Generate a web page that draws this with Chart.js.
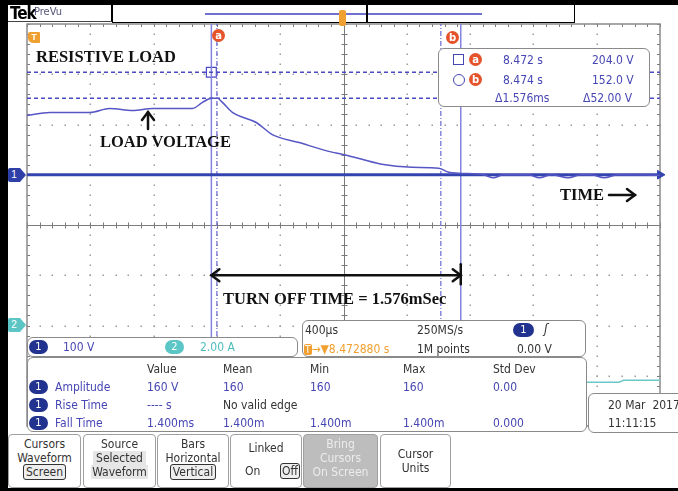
<!DOCTYPE html>
<html>
<head>
<meta charset="utf-8">
<script src="https://cdn.jsdelivr.net/npm/chart.js@4.4.0/dist/chart.umd.min.js"></script>
<style>
  body { margin: 0; background: #fff; }
  #scope { position: relative; width: 678px; height: 491px; overflow: hidden; background: #fff;
           font-family: "Liberation Sans Narrow", "DejaVu Sans Condensed", sans-serif; font-size: 12px; color: #333; }
  #scope canvas { position: absolute; left: 0; top: 0; }
  .t { position: absolute; white-space: nowrap; line-height: 14px; }
  .blue { color: #4646b4; }
  .box { position: absolute; background: #fff; border: 1.5px solid #8a8a8a; border-radius: 6px; box-sizing: border-box; }
  .pill { position: absolute; width: 19px; height: 14px; border-radius: 7px; background: #22338f; color: #fff;
          font-size: 11px; line-height: 14px; text-align: center; }
  .pill.c2 { background: #5cc6c6; }
  .lbl { position: absolute; width: 13px; height: 13px; border-radius: 7px; background: #e4532a; color: #fff;
         font: bold 10px/13px "DejaVu Sans", sans-serif; text-align: center; }
  .note { position: absolute; white-space: nowrap; font: bold 16.5px "Liberation Serif", serif; color: #111; }
  .btn { position: absolute; top: 434px; height: 54px; border: 1px solid #a0a0a0; border-radius: 4px; box-sizing: border-box;
         background: #fff; text-align: center; line-height: 14px; padding-top: 2px; color: #333; }
  .btn.off { background: #bdbdbd; color: #ececec; }
  .sel { border: 1px solid #333; border-radius: 3px; padding: 0 2px; background: #eee; }
</style>
</head>
<body>
<div id="scope">
  <canvas id="scopeChart" width="678" height="491"></canvas>

  <!-- frame -->
  <div style="position:absolute;left:0;top:0;width:678px;height:5px;background:#000"></div>
  <div style="position:absolute;left:0;top:0;width:8px;height:491px;background:#000"></div>
  <div style="position:absolute;left:0;top:488px;width:678px;height:3px;background:#000"></div>

  <!-- header -->
  <div style="position:absolute;left:8px;top:5px;width:104px;height:17px;border-right:1.5px solid #000;border-bottom:1px solid #444;box-sizing:border-box"></div>
  <div class="t" style="left:10px;top:4px;font:bold 17px/18px 'Liberation Sans Narrow','DejaVu Sans Condensed',sans-serif;color:#000;letter-spacing:-1px">Tek</div>
  <div class="t" style="left:34px;top:5px;font-size:11px;color:#55557a">PreVu</div>
  <div style="position:absolute;left:112px;top:5px;width:463px;height:18px;border:1.5px solid #000;border-top:none;box-sizing:border-box"></div>
  <div style="position:absolute;left:205px;top:13px;width:277px;height:2px;background:#7070d0"></div>
  <div style="position:absolute;left:366px;top:5px;width:1.5px;height:17px;background:#000"></div>
  <div style="position:absolute;left:339px;top:10px;width:7px;height:16px;border-radius:2px;background:#f0a030"></div>

  <!-- markers on graticule -->
  <div style="position:absolute;left:28px;top:32px;width:12px;height:11px;border-radius:2px 1px 1px 5px;background:#f0a030;color:#fff;font:bold 9px/11px sans-serif;text-align:center">T</div>
  <div class="lbl" style="left:212px;top:29px">a</div>
  <div class="lbl" style="left:446px;top:31px">b</div>
  <div style="position:absolute;left:8px;top:168px;width:12px;height:14px;background:#2f3fa8;color:#fff;font:10px/14px sans-serif;text-align:center;border-radius:2px 0 0 2px">1</div>
  <div style="position:absolute;left:20px;top:168px;width:0;height:0;border-top:7px solid transparent;border-bottom:7px solid transparent;border-left:6px solid #2f3fa8"></div>
  <div style="position:absolute;left:8px;top:318px;width:12px;height:14px;background:#5cc6c6;color:#fff;font:10px/14px sans-serif;text-align:center;border-radius:2px 0 0 2px">2</div>
  <div style="position:absolute;left:20px;top:318px;width:0;height:0;border-top:7px solid transparent;border-bottom:7px solid transparent;border-left:6px solid #5cc6c6"></div>

  <!-- annotations -->
  <div class="note" style="left:36px;top:47px">RESISTIVE LOAD</div>
  <div class="note" style="left:100px;top:132px">LOAD VOLTAGE</div>
  <div class="note" style="left:560px;top:185px">TIME</div>
  <div class="note" style="left:223px;top:289px">TURN OFF TIME = 1.576mSec</div>

  <!-- cursor readout -->
  <div class="box" style="left:438px;top:48px;width:212px;height:59px"></div>
  <div style="position:absolute;left:453px;top:54px;width:11px;height:11px;border:1.2px solid #4646b4;box-sizing:border-box"></div>
  <div class="lbl" style="left:469px;top:53px">a</div>
  <div class="t blue" style="left:503px;top:53px">8.472 s</div>
  <div class="t blue" style="left:592px;top:53px">204.0 V</div>
  <div style="position:absolute;left:453px;top:74px;width:12px;height:12px;border:1.2px solid #4646b4;border-radius:6px;box-sizing:border-box"></div>
  <div class="lbl" style="left:469px;top:73px">b</div>
  <div class="t blue" style="left:503px;top:73px">8.474 s</div>
  <div class="t blue" style="left:592px;top:73px">152.0 V</div>
  <div class="t blue" style="left:495px;top:91px">Δ1.576ms</div>
  <div class="t blue" style="left:583px;top:91px">Δ52.00 V</div>

  <!-- channel bar -->
  <div class="box" style="left:27px;top:337px;width:271px;height:20px"></div>
  <div class="pill" style="left:29px;top:340px">1</div>
  <div class="t blue" style="left:63px;top:340px">100 V</div>
  <div class="pill c2" style="left:165px;top:340px">2</div>
  <div class="t" style="left:200px;top:340px;color:#4cbcbc">2.00 A</div>

  <!-- horizontal / trigger box -->
  <div class="box" style="left:302px;top:320px;width:284px;height:37px"></div>
  <div class="t" style="left:305px;top:323px">400µs</div>
  <div class="t" style="left:417px;top:323px">250MS/s</div>
  <div class="pill" style="left:513px;top:323px;width:21px">1</div>
  <div class="t" style="left:544px;top:322px;font-size:13px;font-style:italic">ʃ</div>
  <div class="t" style="left:304px;top:342px;color:#f0a030"><span style="background:#f0a030;color:#fff;border-radius:2px;padding:0 1px;font-size:10px">T</span>→▼8.472880 s</div>
  <div class="t" style="left:417px;top:342px">1M points</div>
  <div class="t" style="left:517px;top:342px">0.00 V</div>

  <!-- measurements -->
  <div class="box" style="left:27px;top:357px;width:560px;height:75px"></div>
  <div class="t" style="left:147px;top:362px">Value</div>
  <div class="t" style="left:223px;top:362px">Mean</div>
  <div class="t" style="left:310px;top:362px">Min</div>
  <div class="t" style="left:403px;top:362px">Max</div>
  <div class="t" style="left:493px;top:362px">Std Dev</div>

  <div class="pill" style="left:29px;top:380px">1</div>
  <div class="t blue" style="left:55px;top:380px">Amplitude</div>
  <div class="t blue" style="left:147px;top:380px">160 V</div>
  <div class="t blue" style="left:223px;top:380px">160</div>
  <div class="t blue" style="left:310px;top:380px">160</div>
  <div class="t blue" style="left:403px;top:380px">160</div>
  <div class="t blue" style="left:493px;top:380px">0.00</div>

  <div class="pill" style="left:29px;top:398px">1</div>
  <div class="t blue" style="left:55px;top:398px">Rise Time</div>
  <div class="t blue" style="left:147px;top:398px">---- s</div>
  <div class="t" style="left:223px;top:398px">No valid edge</div>

  <div class="pill" style="left:29px;top:416px">1</div>
  <div class="t blue" style="left:55px;top:416px">Fall Time</div>
  <div class="t blue" style="left:147px;top:416px">1.400ms</div>
  <div class="t blue" style="left:223px;top:416px">1.400m</div>
  <div class="t blue" style="left:310px;top:416px">1.400m</div>
  <div class="t blue" style="left:403px;top:416px">1.400m</div>
  <div class="t blue" style="left:493px;top:416px">0.000</div>

  <!-- date -->
  <div class="box" style="left:588px;top:393px;width:100px;height:40px"></div>
  <div class="t" style="left:608px;top:398px">20 Mar&nbsp; 2017</div>
  <div class="t" style="left:608px;top:416px">11:11:15</div>

  <!-- soft buttons -->
  <div class="btn" style="left:8px;width:73px">Cursors<br>Waveform<br><span class="sel">Screen</span></div>
  <div class="btn" style="left:83px;width:73px">Source<br><span style="background:#e6e6e6;padding:0 3px">Selected</span><br><span style="background:#e6e6e6;padding:0 1px">Waveform</span></div>
  <div class="btn" style="left:157px;width:72px">Bars<br>Horizontal<br><span class="sel">Vertical</span></div>
  <div class="btn" style="left:230px;width:72px;padding-top:6px">Linked</div>
  <div class="t" style="left:245px;top:464px">On</div>
  <div class="t sel" style="left:280px;top:463px;padding:0 1px">Off</div>
  <div class="btn off" style="left:303px;width:75px">Bring<br>Cursors<br>On Screen</div>
  <div class="btn" style="left:380px;width:71px;padding-top:12px">Cursor<br>Units</div>
</div>

<script>
// time axis in microseconds relative to trigger (400 us/div), ch1 in volts (100 V/div), ch2 in amps (2 A/div)
const ch1Time = [-2000, -1855, -1603, -1477, -1332, -1206, -954, -891, -835, -797, -765, -702, -551, -450, -280, -73, -10,
                 116, 242, 431, 602, 665, 728, 885, 948, 1011, 1168, 1238, 1313, 1420, 1502, 1565, 1647, 1735, 2000];
const ch1Volts = [118, 124, 124, 132, 128, 132, 132, 144, 152, 152, 144, 124, 104, 80, 64, 45, 41,
                  31, 21, 15, 13, 5, 3, 0, -6, 0, 0, -6, 0, -6, 0, 0, -6, 0, -1];

const ch2Time = [-2000, 1740, 1770, 2000];
const ch2Amps = [-2.26, -2.26, -2.18, -2.18];

const cursorTimes = [-835, 741];   // cursor a, cursor b
const cursorVolts = [204, 152];
const fallMarks = [-800, 615];     // fall time measurement edges
const arrowLevel = -200;           // turn-off-time arrow height, volts

const xs = (t, v) => t.map((x, i) => ({ x, y: v[i] }));
const vLine = (t) => [{ x: t, y: -500 }, { x: t, y: 300 }];
const hLine = (v) => [{ x: -2000, y: v }, { x: 2000, y: v }];

const graticule = {
  id: 'graticule',
  beforeDatasetsDraw(chart) {
    const { ctx, chartArea: a, scales: { x, y } } = chart;
    ctx.save();
    ctx.fillStyle = '#9c9c9c';
    for (let i = 1; i < 10; i++) {
      if (i === 5) continue;
      const px = Math.round(x.getPixelForValue(-2000 + i * 400));
      for (let k = 0; k <= 40; k++) {
        const py = Math.round(y.getPixelForValue(-500 + k * 20));
        ctx.fillRect(px - 0.5, py - 0.5, 1.5, 1.5);
      }
    }
    for (let j = 1; j < 8; j++) {
      if (j === 4) continue;
      const py = Math.round(y.getPixelForValue(-500 + j * 100));
      for (let k = 0; k <= 50; k++) {
        const px = Math.round(x.getPixelForValue(-2000 + k * 80));
        ctx.fillRect(px - 0.5, py - 0.5, 1.5, 1.5);
      }
    }
    // center cross with ticks
    const cx = Math.round(x.getPixelForValue(0)) + 0.5;
    const cy = Math.round(y.getPixelForValue(-100)) + 0.5;
    ctx.strokeStyle = '#7a7a7a';
    ctx.lineWidth = 1;
    ctx.beginPath();
    ctx.moveTo(cx, a.top); ctx.lineTo(cx, a.bottom);
    ctx.moveTo(a.left, cy); ctx.lineTo(a.right, cy);
    for (let k = 0; k <= 50; k++) {
      const px = Math.round(x.getPixelForValue(-2000 + k * 80)) + 0.5;
      ctx.moveTo(px, cy - 3); ctx.lineTo(px, cy + 3);
      ctx.moveTo(px, a.top); ctx.lineTo(px, a.top + 3);
      ctx.moveTo(px, a.bottom); ctx.lineTo(px, a.bottom - 3);
    }
    for (let k = 0; k <= 40; k++) {
      const py = Math.round(y.getPixelForValue(-500 + k * 20)) + 0.5;
      ctx.moveTo(cx - 3, py); ctx.lineTo(cx + 3, py);
      ctx.moveTo(a.left, py); ctx.lineTo(a.left + 3, py);
      ctx.moveTo(a.right, py); ctx.lineTo(a.right - 3, py);
    }
    ctx.stroke();
    ctx.strokeStyle = '#8a8a8a';
    ctx.lineWidth = 1.5;
    ctx.strokeRect(a.left, a.top, a.width, a.height);
    ctx.restore();
  }
};

function arrowHead(ctx, x, y, dx, dy) {
  const len = 8, w = 6;
  ctx.beginPath();
  ctx.moveTo(x - dx * len + dy * w, y - dy * len + dx * w);
  ctx.lineTo(x, y);
  ctx.lineTo(x - dx * len - dy * w, y - dy * len - dx * w);
  ctx.stroke();
}

const notes = {
  id: 'notes',
  afterDatasetsDraw(chart) {
    const { ctx, scales: { x, y } } = chart;
    ctx.save();
    ctx.strokeStyle = '#111';
    ctx.lineWidth = 2.5;
    ctx.lineCap = 'round';
    // LOAD VOLTAGE arrow
    ctx.beginPath(); ctx.moveTo(148, 129); ctx.lineTo(148, 112); ctx.stroke();
    arrowHead(ctx, 148, 112, 0, -1);
    // TIME arrow
    ctx.beginPath(); ctx.moveTo(609, 195); ctx.lineTo(635, 195); ctx.stroke();
    arrowHead(ctx, 635, 195, 1, 0);
    // turn off time arrow between the cursors
    const x0 = x.getPixelForValue(cursorTimes[0]);
    const x1 = x.getPixelForValue(cursorTimes[1]);
    const ya = y.getPixelForValue(arrowLevel);
    ctx.beginPath(); ctx.moveTo(x0, ya); ctx.lineTo(x1, ya); ctx.stroke();
    arrowHead(ctx, x0, ya, -1, 0);
    arrowHead(ctx, x1, ya, 1, 0);
    ctx.beginPath(); ctx.moveTo(x1, ya - 11); ctx.lineTo(x1, ya + 9); ctx.stroke();
    ctx.restore();
  }
};

const ctx = document.getElementById('scopeChart').getContext('2d');
const scopeChart = new Chart(ctx, {
  type: 'line',
  data: {
    datasets: [
      { data: xs(ch1Time, ch1Volts), borderColor: '#5656c4', borderWidth: 1.5, cubicInterpolationMode: 'monotone' },
      { data: hLine(0), borderColor: '#3444ae', borderWidth: 3 },
      { data: xs(ch2Time, ch2Amps), yAxisID: 'y2', borderColor: '#6cc8c8', borderWidth: 1.5 },
      { data: hLine(cursorVolts[0]), borderColor: '#4a4ac4', borderWidth: 1.5, borderDash: [4, 3] },
      { data: hLine(cursorVolts[1]), borderColor: '#4a4ac4', borderWidth: 1.5, borderDash: [4, 3] },
      { data: vLine(cursorTimes[0]), borderColor: '#8484e0', borderWidth: 1.5 },
      { data: vLine(cursorTimes[1]), borderColor: '#8484e0', borderWidth: 1.5 },
      { data: vLine(fallMarks[0]), borderColor: '#6a6ad4', borderWidth: 1.2, borderDash: [5, 2, 1, 2] },
      { data: vLine(fallMarks[1]), borderColor: '#6a6ad4', borderWidth: 1.2, borderDash: [5, 2, 1, 2] },
      { data: [{ x: cursorTimes[0], y: cursorVolts[0] }], pointStyle: 'rect', pointRadius: 7,
        pointBorderColor: '#4a4ac4', pointBackgroundColor: 'transparent', pointBorderWidth: 1.2, showLine: false },
      { data: [{ x: 2000, y: 0 }], pointStyle: 'triangle', rotation: 90, pointRadius: 5,
        pointBackgroundColor: '#3444ae', pointBorderColor: '#3444ae', showLine: false, clip: false }
    ]
  },
  options: {
    responsive: false,
    animation: false,
    elements: { point: { radius: 0 } },
    layout: { padding: { left: 27, right: 18, top: 24, bottom: 65 } },
    plugins: { legend: { display: false }, tooltip: { enabled: false } },
    scales: {
      x: { type: 'linear', min: -2000, max: 2000, display: false },
      y: { type: 'linear', min: -500, max: 300, display: false },
      y2: { type: 'linear', min: -4, max: 12, display: false }
    }
  },
  plugins: [graticule, notes]
});
</script>
</body>
</html>
